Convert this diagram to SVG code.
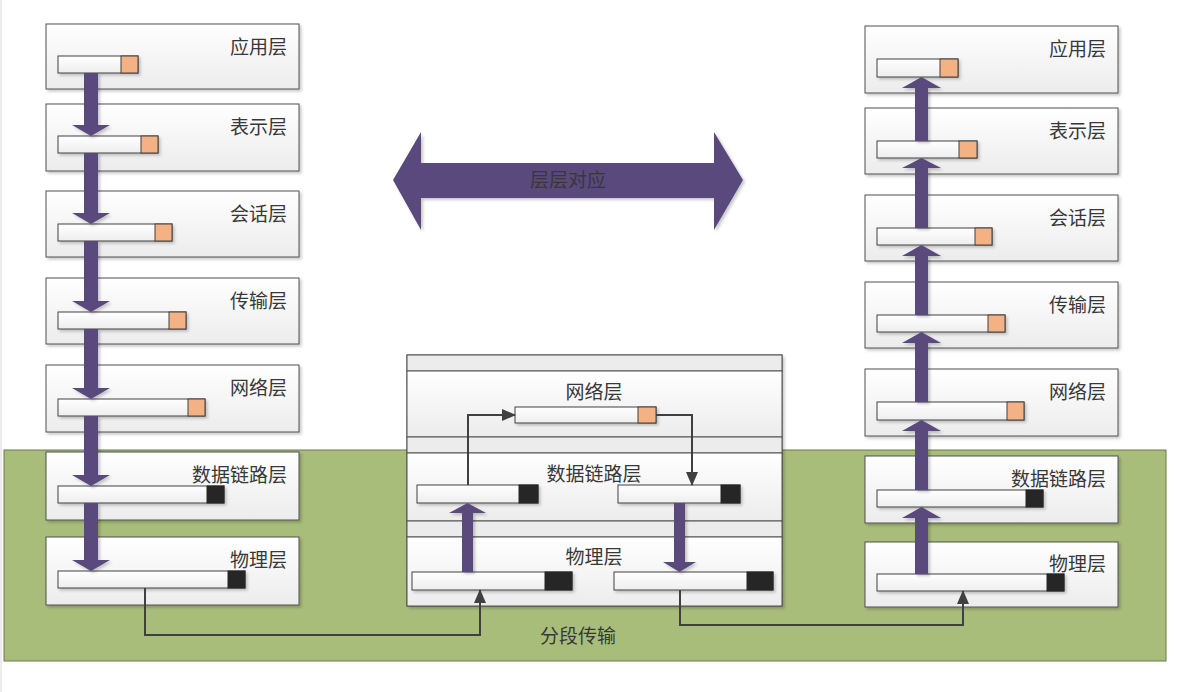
<svg xmlns="http://www.w3.org/2000/svg" width="1182" height="692" viewBox="0 0 1182 692">
<defs>
<linearGradient id="boxg" x1="0" y1="0" x2="0" y2="1"><stop offset="0" stop-color="#ffffff"/><stop offset="1" stop-color="#ececec"/></linearGradient>
<linearGradient id="barg" x1="0" y1="0" x2="0" y2="1"><stop offset="0" stop-color="#ffffff"/><stop offset="1" stop-color="#eeeeee"/></linearGradient>
<filter id="sh" x="-5%" y="-5%" width="115%" height="130%"><feDropShadow dx="2" dy="2" stdDeviation="1.5" flood-color="#000" flood-opacity="0.22"/></filter>
<marker id="ah" viewBox="0 0 14 12" refX="13" refY="6" markerWidth="14" markerHeight="12" markerUnits="userSpaceOnUse" orient="auto"><path d="M0,0 L14,6 L0,12 Z" fill="#404040"/></marker>
</defs>
<style>
.box{fill:url(#boxg);stroke:#505050;stroke-width:1;filter:url(#sh)}
.bar{fill:url(#barg);stroke:#404040;stroke-width:1;filter:url(#sh)}
.or{fill:#f4b183;stroke:#404040;stroke-width:1}
.bk{fill:#262626;stroke:#262626;stroke-width:1}
.band{fill:#ececec;stroke:#505050;stroke-width:1}
.pa{fill:#5a4a7d;filter:url(#sh)}
.ln{fill:none;stroke:#404040;stroke-width:2;marker-end:url(#ah)}
.t{font-family:"Noto Sans CJK SC","Noto Sans",sans-serif;font-size:19px;fill:#383838}
.tr{text-anchor:end}
.tc{text-anchor:middle}
</style>
<rect x="0" y="0" width="1182" height="692" fill="#ffffff"/>
<line x1="1" y1="0" x2="1" y2="692" stroke="#d8d8d8" stroke-width="1"/>
<rect id="segment-area" x="4" y="450" width="1162" height="211" fill="#a9bd7b" stroke="#6b7b4a" stroke-width="1"/>

<!-- Left stack -->
<g id="L-app"><rect class="box" x="46" y="24" width="253" height="65"/><text class="t tr" x="287" y="54">应用层</text><rect class="bar" x="58" y="56" width="80" height="17"/><rect class="or" x="121" y="56" width="17" height="17"/></g>
<g id="L-pres"><rect class="box" x="46" y="104" width="253" height="67"/><text class="t tr" x="287" y="134">表示层</text><rect class="bar" x="58" y="136" width="100" height="17"/><rect class="or" x="141" y="136" width="17" height="17"/></g>
<g id="L-sess"><rect class="box" x="46" y="191" width="253" height="66"/><text class="t tr" x="287" y="221">会话层</text><rect class="bar" x="58" y="224" width="114" height="17"/><rect class="or" x="155" y="224" width="17" height="17"/></g>
<g id="L-trans"><rect class="box" x="46" y="278" width="253" height="66"/><text class="t tr" x="287" y="308">传输层</text><rect class="bar" x="58" y="312" width="128" height="17"/><rect class="or" x="169" y="312" width="17" height="17"/></g>
<g id="L-net"><rect class="box" x="46" y="365" width="253" height="67"/><text class="t tr" x="287" y="395">网络层</text><rect class="bar" x="58" y="399" width="147" height="17"/><rect class="or" x="188" y="399" width="17" height="17"/></g>
<g id="L-dl"><rect class="box" x="46" y="452" width="253" height="68"/><text class="t tr" x="287" y="482">数据链路层</text><rect class="bar" x="58" y="486" width="166" height="17"/><rect class="bk" x="207" y="486" width="17" height="17"/></g>
<g id="L-phy"><rect class="box" x="46" y="537" width="253" height="68"/><text class="t tr" x="287" y="567">物理层</text><rect class="bar" x="58" y="571" width="187" height="17"/><rect class="bk" x="228" y="571" width="17" height="17"/></g>

<!-- Right stack -->
<g id="R-app"><rect class="box" x="865" y="26" width="253" height="67"/><text class="t tr" x="1106" y="56">应用层</text><rect class="bar" x="877" y="59" width="81" height="18"/><rect class="or" x="940" y="59" width="18" height="18"/></g>
<g id="R-pres"><rect class="box" x="865" y="108" width="253" height="66"/><text class="t tr" x="1106" y="138">表示层</text><rect class="bar" x="877" y="141" width="100" height="17"/><rect class="or" x="959" y="141" width="18" height="17"/></g>
<g id="R-sess"><rect class="box" x="865" y="195" width="253" height="66"/><text class="t tr" x="1106" y="225">会话层</text><rect class="bar" x="877" y="228" width="115" height="17"/><rect class="or" x="975" y="228" width="17" height="17"/></g>
<g id="R-trans"><rect class="box" x="865" y="282" width="253" height="66"/><text class="t tr" x="1106" y="312">传输层</text><rect class="bar" x="877" y="315" width="128" height="17"/><rect class="or" x="988" y="315" width="17" height="17"/></g>
<g id="R-net"><rect class="box" x="865" y="369" width="253" height="67"/><text class="t tr" x="1106" y="399">网络层</text><rect class="bar" x="877" y="402" width="147" height="18"/><rect class="or" x="1007" y="402" width="17" height="18"/></g>
<g id="R-dl"><rect class="box" x="865" y="456" width="253" height="67"/><text class="t tr" x="1106" y="486">数据链路层</text><rect class="bar" x="877" y="490" width="166" height="17"/><rect class="bk" x="1026" y="490" width="17" height="17"/></g>
<g id="R-phy"><rect class="box" x="865" y="542" width="253" height="65"/><text class="t tr" x="1106" y="571">物理层</text><rect class="bar" x="877" y="574" width="187" height="17"/><rect class="bk" x="1047" y="574" width="17" height="17"/></g>

<!-- Middle router -->
<g id="M-router">
<rect class="box" x="407" y="355" width="375" height="251"/>
<rect class="band" x="407" y="355" width="375" height="16"/>
<rect x="407" y="371" width="375" height="66" fill="url(#boxg)" stroke="#505050" stroke-width="1"/>
<rect class="band" x="407" y="437" width="375" height="16"/>
<rect x="407" y="453" width="375" height="68" fill="url(#boxg)" stroke="#505050" stroke-width="1"/>
<rect class="band" x="407" y="521" width="375" height="16"/>
<rect x="407" y="537" width="375" height="69" fill="url(#boxg)" stroke="#505050" stroke-width="1"/>
<text class="t tc" x="594" y="399">网络层</text>
<text class="t tc" x="594" y="481">数据链路层</text>
<text class="t tc" x="594" y="564">物理层</text>
</g>
<g id="M-net-bar"><rect class="bar" x="515" y="407" width="141" height="16"/><rect class="or" x="638" y="407" width="18" height="16"/></g>
<g id="M-dl-left"><rect class="bar" x="417" y="485" width="121" height="18"/><rect class="bk" x="519" y="485" width="19" height="18"/></g>
<g id="M-dl-right"><rect class="bar" x="618" y="485" width="122" height="18"/><rect class="bk" x="721" y="485" width="19" height="18"/></g>
<g id="M-phy-left"><rect class="bar" x="412" y="572" width="160" height="18"/><rect class="bk" x="545" y="572" width="27" height="18"/></g>
<g id="M-phy-right"><rect class="bar" x="614" y="572" width="159" height="18"/><rect class="bk" x="747" y="572" width="26" height="18"/></g>

<!-- Double arrow -->
<g id="layer-correspond">
<path class="pa" d="M393,180 L421,132 V163 H714 V132 L743,180 L714,230 V198 H421 V230 Z"/>
<text class="t tc" x="568" y="187">层层对应</text>
</g>

<g id="connectors">
<!-- left down arrows -->
<path class="pa" d="M84,73 H98 V125 H110 L91,136 L72,125 H84 Z"/>
<path class="pa" d="M84,153 H98 V213 H110 L91,224 L72,213 H84 Z"/>
<path class="pa" d="M84,241 H98 V301 H110 L91,312 L72,301 H84 Z"/>
<path class="pa" d="M84,329 H98 V388 H110 L91,399 L72,388 H84 Z"/>
<path class="pa" d="M84,416 H98 V475 H110 L91,486 L72,475 H84 Z"/>
<path class="pa" d="M84,503 H98 V560 H110 L91,571 L72,560 H84 Z"/>
<!-- right up arrows -->
<path class="pa" d="M915,141 V88 H902 L921.5,77 L941,88 H928 V141 Z"/>
<path class="pa" d="M915,228 V168 H902 L921.5,158 L941,168 H928 V228 Z"/>
<path class="pa" d="M915,315 V256 H902 L921.5,245 L941,256 H928 V315 Z"/>
<path class="pa" d="M915,402 V343 H902 L921.5,332 L941,343 H928 V402 Z"/>
<path class="pa" d="M915,490 V431 H902 L921.5,420 L941,431 H928 V490 Z"/>
<path class="pa" d="M915,574 V518 H902 L921.5,507 L941,518 H928 V574 Z"/>
<!-- middle purple -->
<path class="pa" d="M462,572 V513 H449 L467.5,503 L486,513 H473 V572 Z"/>
<path class="pa" d="M674,503 H685 V562 H696 L679.5,572 L663,562 H674 Z"/>
<!-- thin connectors -->
<path class="ln" d="M468,485 V415 H515"/>
<path class="ln" d="M656,415 H692 V485"/>
<path class="ln" d="M145,588 V635 H480 V590"/>
<path class="ln" d="M680,590 V625 H963 V591"/>
</g>
<text id="segment-label" class="t tc" x="578" y="643">分段传输</text>
</svg>
